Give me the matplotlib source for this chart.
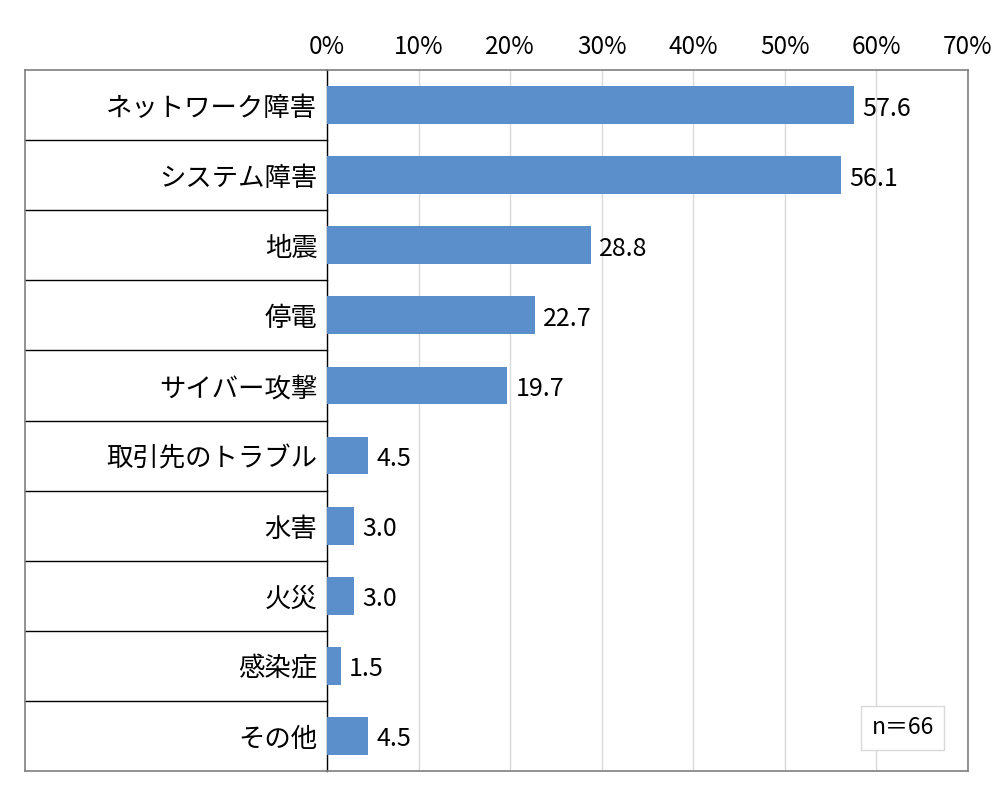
import matplotlib
matplotlib.use("Agg")
from matplotlib import pyplot as plt

plt.rcParams['font.family'] = ['Noto Sans CJK JP', 'DejaVu Sans']

categories = ['ネットワーク障害', 'システム障害', '地震', '停電', 'サイバー攻撃',
              '取引先のトラブル', '水害', '火災', '感染症', 'その他']
values = [57.6, 56.1, 28.8, 22.7, 19.7, 4.5, 3.0, 3.0, 1.5, 4.5]
ticks = [0, 10, 20, 30, 40, 50, 60, 70]
note = 'n＝66'

fig = plt.figure(figsize=(10, 8.01), dpi=100)
ax = fig.add_axes([0.327, 0.0375, 0.641, 0.875])

pos = list(range(len(categories)))
ax.barh(pos, values, height=0.54, color='#5b8fcc', zorder=3)
for p, v in zip(pos, values):
    ax.text(v + 0.9, p + 0.05, f'{v:.1f}', va='center', ha='left', fontsize=18, zorder=4)

ax.set_xlim(0, 70)
ax.set_ylim(len(categories) - 0.5, -0.5)
ax.set_xticks(ticks)
ax.set_xticklabels([f'{t}%' for t in ticks], fontsize=17.5)
ax.xaxis.tick_top()
ax.tick_params(axis='x', length=0, pad=7)
ax.set_yticks([])
ax.grid(axis='x', color='#d9d9d9', lw=1, zorder=0)

for s in ['top', 'right', 'bottom']:
    ax.spines[s].set_color('#7f7f7f')
    ax.spines[s].set_linewidth(1.2)
ax.spines['left'].set_color('black')
ax.spines['left'].set_linewidth(1.0)

# label column: frame and row separators
left = -302 / 641
tr = ax.get_yaxis_transform()
for b in [p + 0.5 for p in pos[:-1]]:
    ax.plot([left, 0], [b, b], color='black', lw=1.0, transform=tr, clip_on=False)
ax.plot([left, left], [-0.5, len(categories) - 0.5], color='#7f7f7f', lw=1.2,
        transform=tr, clip_on=False)
ax.plot([left, 0], [-0.5, -0.5], color='#7f7f7f', lw=1.2, transform=tr, clip_on=False)
ax.plot([left, 0], [len(categories) - 0.5] * 2, color='#7f7f7f', lw=1.2,
        transform=tr, clip_on=False)
for p, c in zip(pos, categories):
    ax.text(-0.015, p + 0.05, c, transform=tr, ha='right', va='center', fontsize=19)

ax.text(0.947, 0.045, note, transform=ax.transAxes, ha='right', va='bottom', fontsize=16.5,
        bbox=dict(boxstyle='square,pad=0.45', fc='white', ec='#d9d9d9', lw=1), zorder=5)

fig.savefig('out.png')
